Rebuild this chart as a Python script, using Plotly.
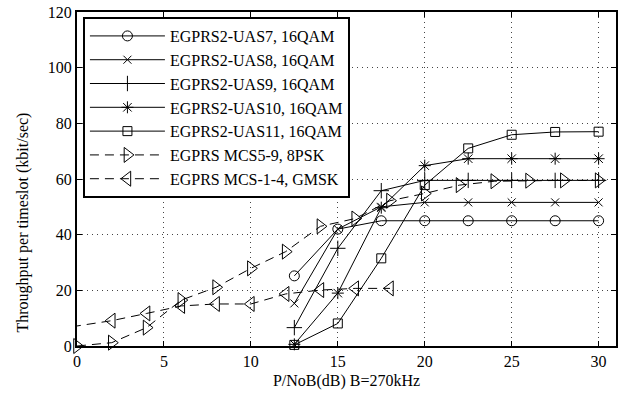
import plotly.graph_objects as go

# ---- data ----
x_uas = [12.5, 15, 17.5, 20, 22.5, 25, 27.5, 30]
uas7 = [25.2, 42.0, 45.0, 45.0, 45.0, 45.0, 45.0, 45.0]
uas8 = [15.3, 42.0, 50.0, 51.6, 51.6, 51.6, 51.6, 51.6]
uas9 = [6.6, 35.1, 55.8, 59.5, 59.5, 59.5, 59.5, 59.5]
uas10 = [0.6, 19.0, 49.7, 64.8, 67.3, 67.3, 67.3, 67.3]
uas11 = [0.4, 8.1, 31.5, 57.8, 71.0, 75.9, 76.9, 77.0]

x_8psk = [0, 2, 4, 6, 8, 10, 12, 14, 16, 18, 20, 22, 24, 26, 28, 30]
mcs5_9 = [0.0, 1.2, 6.6, 16.5, 21.1, 27.9, 33.9, 43.0, 45.8, 52.2, 54.8, 57.8, 59.2, 59.4, 59.5, 59.5]

x_gmsk = [-2, 2, 4, 6, 8, 10, 12, 14, 16, 18]
mcs1_4 = [5.3, 9.1, 11.7, 14.4, 15.1, 15.1, 18.7, 20.1, 20.7, 20.7]

names = ["EGPRS2-UAS7, 16QAM", "EGPRS2-UAS8, 16QAM", "EGPRS2-UAS9, 16QAM",
         "EGPRS2-UAS10, 16QAM", "EGPRS2-UAS11, 16QAM",
         "EGPRS MCS5-9, 8PSK", "EGPRS MCS-1-4, GMSK"]

x_ticks = [0, 5, 10, 15, 20, 25, 30]
y_ticks = [0, 20, 40, 60, 80, 100, 120]

FONT = "Liberation Serif"

fig = go.Figure()

solid = [
    (x_uas, uas7, "circle-open", 10),
    (x_uas, uas8, "x-thin-open", 8),
    (x_uas, uas9, "cross-thin-open", 11),
    (x_uas, uas10, "asterisk-open", 10),
    (x_uas, uas11, "square-open", 9),
]
for (xs, ys, sym, sz), nm in zip(solid, names[:5]):
    fig.add_trace(go.Scatter(
        x=xs, y=ys, name=nm, mode="lines+markers",
        line=dict(color="black", width=1),
        marker=dict(symbol=sym, size=sz, color="black", line=dict(width=1, color="black")),
        cliponaxis=False,
    ))

fig.add_trace(go.Scatter(
    x=x_8psk, y=mcs5_9, name=names[5], mode="lines+markers",
    line=dict(color="black", width=1, dash="9px,6px"),
    marker=dict(symbol="triangle-right-open", size=13, color="black", line=dict(width=1, color="black")),
    cliponaxis=False,
))
fig.add_trace(go.Scatter(
    x=x_gmsk, y=mcs1_4, name=names[6], mode="lines+markers",
    line=dict(color="black", width=1, dash="9px,6px"),
    marker=dict(symbol="triangle-left-open", size=13, color="black", line=dict(width=1, color="black")),
    cliponaxis=True,
))

axis_common = dict(
    showline=True, linecolor="black", linewidth=2, mirror="ticks",
    ticks="inside", ticklen=5, tickwidth=1, tickcolor="black",
    showgrid=True, gridcolor="#444", gridwidth=1, griddash="1px,4px",
    zeroline=False,
    tickfont=dict(family=FONT, size=16, color="black"),
)

fig.update_xaxes(
    range=[0, 31], tickvals=x_ticks, ticktext=[str(v) for v in x_ticks],
    title=dict(text="P/NoB(dB) B=270kHz", font=dict(family=FONT, size=16, color="black"), standoff=6),
    **axis_common,
)
fig.update_yaxes(
    range=[0, 120], tickvals=y_ticks, ticktext=[str(v) for v in y_ticks],
    **axis_common,
)

fig.add_annotation(
    text="Throughput per timeslot (kbit/sec)", xref="paper", yref="paper",
    x=-0.1, y=0.37, xanchor="center", yanchor="middle", textangle=-90,
    showarrow=False, font=dict(family=FONT, size=16, color="black"),
)

fig.update_layout(
    width=622, height=395,
    margin=dict(l=77, r=4, t=12, b=49),
    paper_bgcolor="white", plot_bgcolor="white",
    showlegend=True,
    legend=dict(
        x=0.011, y=0.985, xanchor="left", yanchor="top",
        bgcolor="white", bordercolor="black", borderwidth=2,
        font=dict(family=FONT, size=16, color="black"),
        itemwidth=75, tracegroupgap=0,
    ),
    font=dict(family=FONT, color="black"),
)

fig.write_html("out.html")
